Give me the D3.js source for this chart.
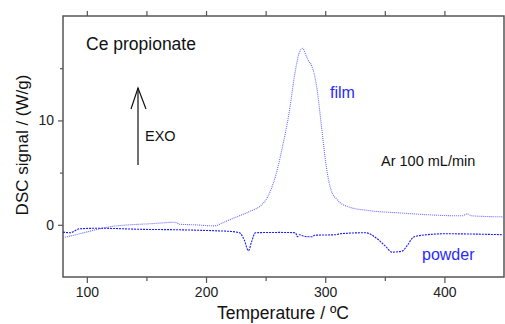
<!DOCTYPE html>
<html>
<head>
<meta charset="utf-8">
<script src="https://cdn.jsdelivr.net/npm/d3@7"></script>
<style>
body { margin: 0; background: #fff; }
text { font-family: "Liberation Sans", Arial, sans-serif; }
</style>
</head>
<body>
<div id="chart"></div>
<script>
// film curve: temperature (C), DSC signal (W/g)
var filmT = [80, 94, 111, 119, 136, 153, 174, 178, 190, 207, 216, 228, 236, 249, 259, 264, 270, 274, 278, 281, 284, 286, 288, 293, 297, 301, 305, 310, 320, 334, 362, 415, 419, 423, 449];
var filmY = [-1.24, -0.86, -0.38, -0.19, 0, 0.1, 0.24, 0.05, 0, -0.1, 0.3, 0.86, 1.24, 2.2, 4.95, 7.4, 10.95, 14.1, 16.4, 16.9, 16.2, 15.7, 15.4, 13.1, 9.3, 5.5, 3.3, 2.4, 1.7, 1.4, 1.14, 0.86, 1.05, 0.86, 0.76];

// powder curve
var powderT = [80, 86, 94, 111, 144, 178, 207, 221, 228, 232, 235.6, 238, 241.5, 262, 275, 276.7, 278.3, 281, 285, 289, 291, 309, 312, 334, 343, 351, 356, 364.5, 369, 374, 381, 401, 449];
var powderY = [-0.7, -0.76, -0.38, -0.33, -0.43, -0.48, -0.57, -0.64, -0.76, -1.43, -2.48, -1.71, -0.76, -0.73, -0.76, -1.14, -0.95, -1.05, -1.14, -1.14, -1.0, -0.95, -0.86, -0.76, -1.29, -2.1, -2.62, -2.52, -1.95, -1.19, -1.0, -0.86, -0.95];

var xMajor = [100, 200, 300, 400];
var xMinor = [150, 250, 350];
var yMajor = [0, 10];
var yMinor = [5, 15];

var w = 505, h = 324;
var mLeft = 63, mRight = 504, mTop = 16, mBottom = 277;

var svg = d3.select("#chart").append("svg")
    .attr("width", w)
    .attr("height", h);

var x = d3.scaleLinear().domain([80, 450]).range([mLeft, mRight]);
var y = d3.scaleLinear().domain([-5, 20]).range([mBottom, mTop]);

var axisColor = "#555";

function styleAxis(g) {
    g.select(".domain").remove();
    g.selectAll("line").attr("stroke", axisColor).attr("stroke-width", 1.2);
    g.selectAll("text").attr("fill", "#222").style("font-size", "14px");
}

// bottom axis
svg.append("g").attr("transform", "translate(0," + mBottom + ")")
    .call(d3.axisBottom(x).tickValues(xMajor).tickSize(6).tickPadding(4).tickFormat(d3.format("d")))
    .call(styleAxis);
svg.append("g").attr("transform", "translate(0," + mBottom + ")")
    .call(d3.axisBottom(x).tickValues(xMinor).tickSize(4).tickFormat(""))
    .call(styleAxis);

// top axis
svg.append("g").attr("transform", "translate(0," + mTop + ")")
    .call(d3.axisTop(x).tickValues(xMajor.concat(xMinor)).tickSize(5).tickFormat(""))
    .call(styleAxis);

// left axis
svg.append("g").attr("transform", "translate(" + mLeft + ",0)")
    .call(d3.axisLeft(y).tickValues(yMajor).tickSize(5).tickPadding(4).tickFormat(d3.format("d")))
    .call(styleAxis);
svg.append("g").attr("transform", "translate(" + mLeft + ",0)")
    .call(d3.axisLeft(y).tickValues(yMinor).tickSize(3).tickFormat(""))
    .call(styleAxis);

// frame
svg.append("rect")
    .attr("x", mLeft).attr("y", mTop)
    .attr("width", mRight - mLeft).attr("height", mBottom - mTop)
    .attr("fill", "none")
    .attr("stroke", axisColor)
    .attr("stroke-width", 1.5);

var line = d3.line()
    .x(function(d) { return x(d[0]); })
    .y(function(d) { return y(d[1]); })
    .curve(d3.curveMonotoneX);

svg.append("path")
    .datum(d3.zip(filmT, filmY))
    .attr("d", line)
    .attr("fill", "none")
    .attr("stroke", "#6a6aff")
    .attr("stroke-width", 1.1)
    .attr("stroke-dasharray", "1,1");

svg.append("path")
    .datum(d3.zip(powderT, powderY))
    .attr("d", line)
    .attr("fill", "none")
    .attr("stroke", "#1a1aff")
    .attr("stroke-width", 1.1)
    .attr("stroke-dasharray", "2,1");

// axis titles
svg.append("text")
    .attr("x", 283).attr("y", 319)
    .attr("text-anchor", "middle")
    .style("font-size", "17.5px")
    .attr("fill", "#111")
    .text("Temperature / ºC");

svg.append("text")
    .attr("transform", "translate(28,145) rotate(-90)")
    .attr("text-anchor", "middle")
    .style("font-size", "17px")
    .attr("fill", "#111")
    .text("DSC signal / (W/g)");

// annotations
svg.append("text").attr("x", 86).attr("y", 50)
    .style("font-size", "17.5px").attr("fill", "#111")
    .text("Ce propionate");

svg.append("text").attr("x", 145).attr("y", 141)
    .style("font-size", "14.5px").attr("fill", "#111")
    .text("EXO");

svg.append("line")
    .attr("x1", 138).attr("y1", 165).attr("x2", 138).attr("y2", 88)
    .attr("stroke", "#111").attr("stroke-width", 1.2);
svg.append("path")
    .attr("d", "M131,109 L138,88 L146,109")
    .attr("fill", "none").attr("stroke", "#111").attr("stroke-width", 1.2);

svg.append("text").attr("x", 330).attr("y", 98)
    .style("font-size", "16px").attr("fill", "#2a2aff")
    .text("film");

svg.append("text").attr("x", 381).attr("y", 166)
    .style("font-size", "14.5px").attr("fill", "#111")
    .text("Ar 100 mL/min");

svg.append("text").attr("x", 422).attr("y", 260)
    .style("font-size", "16px").attr("fill", "#2a2aff")
    .text("powder");
</script>
</body>
</html>
